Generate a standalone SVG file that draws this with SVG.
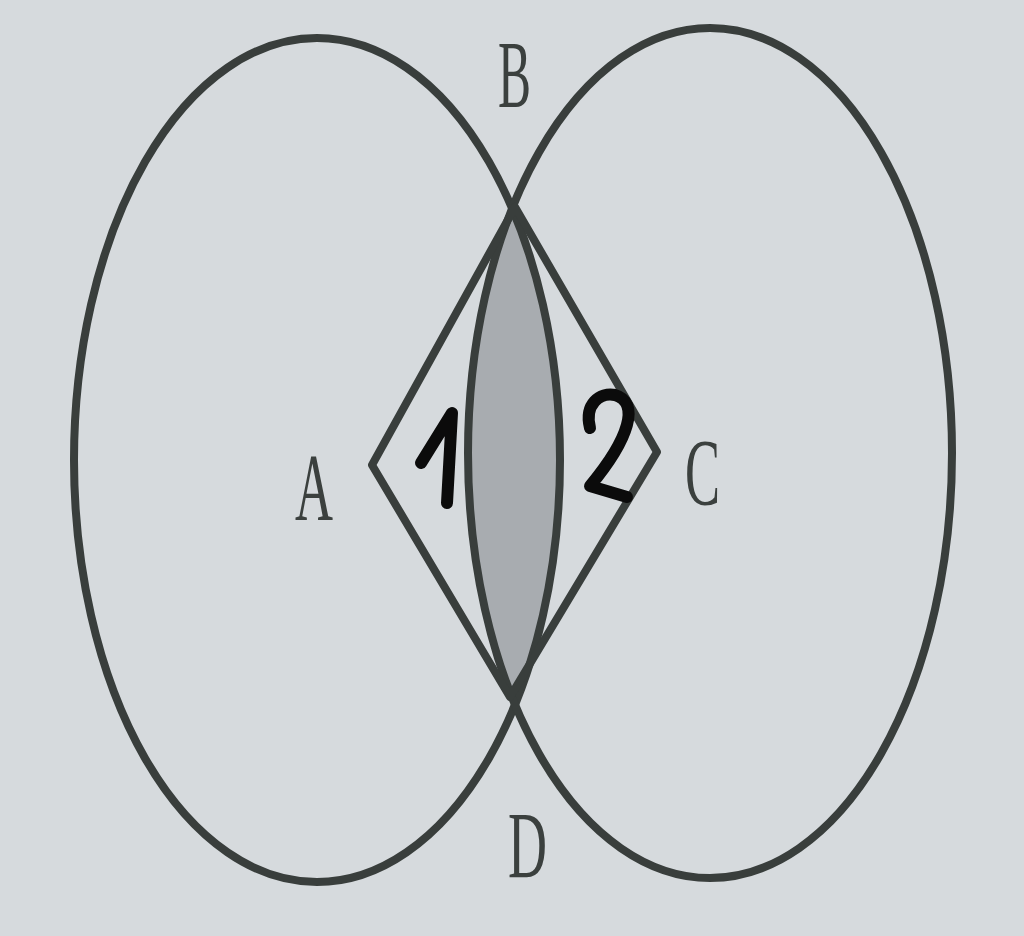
<svg xmlns="http://www.w3.org/2000/svg" width="1024" height="936" viewBox="0 0 1024 936">
<style>
.ln{fill:none;stroke:#393e3c;stroke-width:8;stroke-linejoin:round}
.lbl{font-family:"Liberation Serif","DejaVu Serif",serif;fill:#3b403e;font-size:96px}
.hw{fill:none;stroke:#0b0b0b;stroke-width:12;stroke-linecap:round;stroke-linejoin:round}
</style>
<defs>
<clipPath id="leftClip"><ellipse cx="317" cy="460" rx="243" ry="422"/></clipPath>
</defs>
<rect width="1024" height="936" fill="#d6dadd"/>
<g id="lens"><ellipse cx="710" cy="453" rx="242" ry="425" fill="#a8acb0" clip-path="url(#leftClip)"/></g>
<g id="shapes">
<ellipse id="circleA" class="ln" cx="317" cy="460" rx="243" ry="422"/>
<ellipse id="circleC" class="ln" cx="710" cy="453" rx="242" ry="425"/>
<polygon id="rhombus" class="ln" stroke-width="9" points="515,207 657,452 510,697 372,465"/>
</g>
<g id="labels">
<text class="lbl" x="498" y="107" textLength="33" lengthAdjust="spacingAndGlyphs">B</text>
<text class="lbl" x="295" y="520" textLength="38" lengthAdjust="spacingAndGlyphs">A</text>
<text class="lbl" x="685" y="505" textLength="35" lengthAdjust="spacingAndGlyphs">C</text>
<text class="lbl" x="508" y="878" textLength="39" lengthAdjust="spacingAndGlyphs">D</text>
</g>
<g id="marks">
<path class="hw" d="M421,463 L452,413 L447,503"/>
<path class="hw" d="M590,428 C584,404 600,392 615,395 C640,402 630,438 590,486 L627,497"/>
</g>
</svg>
